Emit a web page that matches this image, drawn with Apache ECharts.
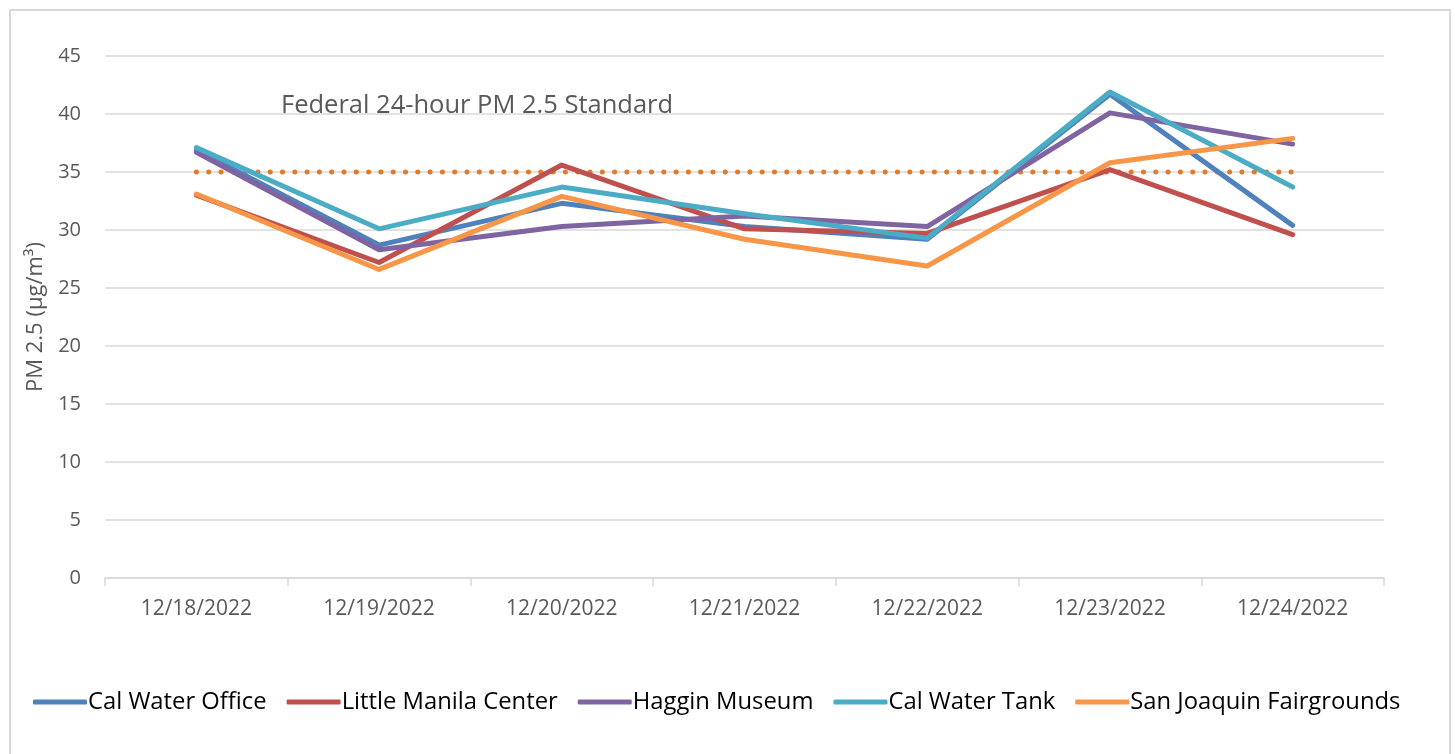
<!DOCTYPE html>
<html>
<head>
<meta charset="utf-8">
<title>PM 2.5</title>
<script src="https://cdn.jsdelivr.net/npm/echarts@6/dist/echarts.min.js"></script>
<style>
    html, body { margin: 0; padding: 0; background: #fff; }
    #main { width: 1455px; height: 754px; }
</style>
</head>
<body>
<div id="main"></div>
<script>
    // 日期
    var dates = ['12/18/2022', '12/19/2022', '12/20/2022', '12/21/2022', '12/22/2022', '12/23/2022', '12/24/2022'];

    // 各站点数据
    var calWaterOffice = [36.9, 28.7, 32.3, 30.3, 29.2, 41.7, 30.4];
    var littleManila = [33.0, 27.2, 35.6, 30.1, 29.7, 35.2, 29.6];
    var hagginMuseum = [36.7, 28.3, 30.3, 31.2, 30.3, 40.1, 37.4];
    var calWaterTank = [37.1, 30.1, 33.7, 31.4, 29.3, 41.9, 33.7];
    var fairgrounds = [33.1, 26.6, 32.9, 29.2, 26.9, 35.8, 37.9];

    var standard = [35, 35, 35, 35, 35, 35, 35];

    var myChart = echarts.init(document.getElementById('main'));

    var font = '"Open Sans", sans-serif';

    function line(name, data, color) {
        return {
            name: name,
            type: 'line',
            data: data,
            symbol: 'none',
            lineStyle: { width: 5, color: color, cap: 'round', join: 'round' },
            itemStyle: { color: color }
        };
    }

    option = {
        animation: false,
        textStyle: { fontFamily: font },
        graphic: [{
            type: 'rect',
            shape: { x: 10, y: 10, width: 1440, height: 760 },
            style: { fill: 'none', stroke: '#d9d9d9', lineWidth: 2 },
            silent: true
        }, {
            type: 'text',
            left: 281, top: 93,
            z: 100,
            style: { text: 'Federal 24-hour PM 2.5 Standard', fill: '#595959', font: '25.5px ' + font }
        }],
        grid: { left: 105, right: 71, top: 56, bottom: 176 },
        legend: {
            top: 685,
            left: 28,
            itemWidth: 54,
            itemHeight: 5,
            itemGap: 20,
            icon: 'roundRect',
            textStyle: { fontSize: 23.8, color: '#000', fontFamily: font, padding: [0, 0, 0, -4] },
            data: ['Cal Water Office', 'Little Manila Center', 'Haggin Museum', 'Cal Water Tank', 'San Joaquin Fairgrounds']
        },
        xAxis: {
            type: 'category',
            data: dates,
            boundaryGap: true,
            axisLine: { lineStyle: { color: '#d9d9d9', width: 1.5 } },
            axisTick: { show: true, length: 8, lineStyle: { color: '#d9d9d9', width: 1.5 } },
            axisLabel: { color: '#595959', fontSize: 21, margin: 21, fontFamily: font }
        },
        yAxis: {
            type: 'value',
            min: 0, max: 45, interval: 5,
            name: 'PM 2.5 (µg/m³)',
            nameLocation: 'middle',
            nameGap: 52,
            nameTextStyle: { color: '#595959', fontSize: 22, fontFamily: font },
            axisLine: { show: false },
            axisTick: { show: false },
            axisLabel: { color: '#595959', fontSize: 20, margin: 24, fontFamily: font },
            splitLine: { lineStyle: { color: '#d9d9d9', width: 1.5 } }
        },
        series: [
            {
                name: 'Federal Standard',
                type: 'line',
                data: standard,
                symbol: 'none',
                lineStyle: { width: 5, color: '#E07B2C', type: [0.1, 12.2], cap: 'round' },
                z: 1
            },
            line('Cal Water Office', calWaterOffice, '#4F81BD'),
            line('Little Manila Center', littleManila, '#C0504D'),
            line('Haggin Museum', hagginMuseum, '#8064A2'),
            line('Cal Water Tank', calWaterTank, '#4BACC6'),
            line('San Joaquin Fairgrounds', fairgrounds, '#F79646')
        ]
    };

    myChart.setOption(option);
</script>
</body>
</html>
